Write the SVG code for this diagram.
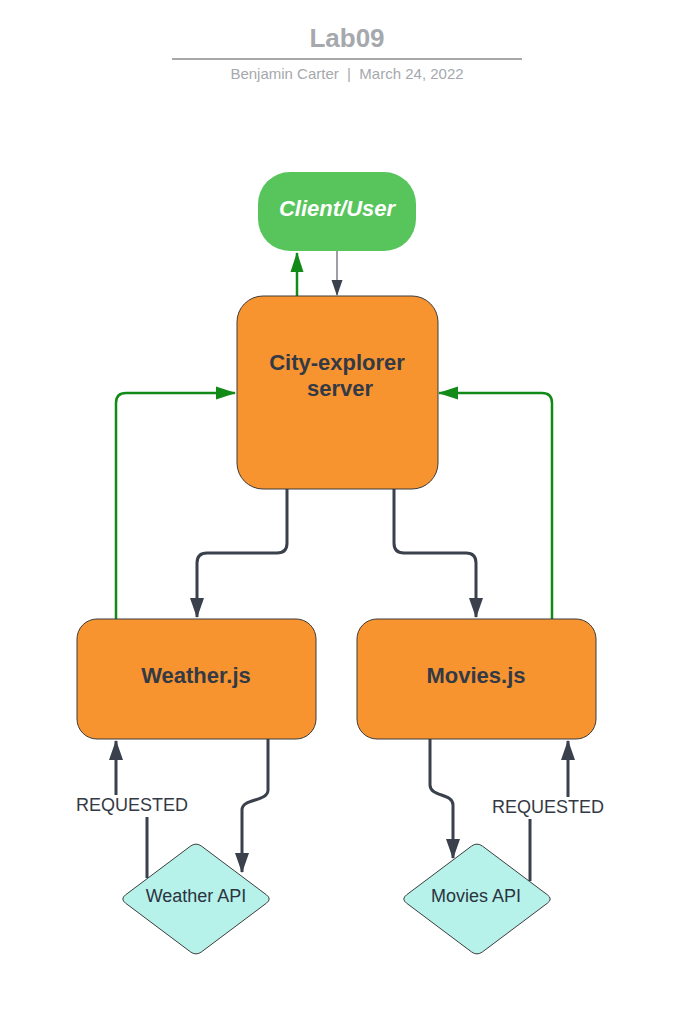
<svg xmlns="http://www.w3.org/2000/svg" width="695" height="1012" viewBox="0 0 695 1012">
<style>
.box{fill:#f7942f;stroke:#3d3d3d;stroke-width:1}
.api{fill:#b6f2ea;stroke:#3d3d3d;stroke-width:1}
.lbl{font-family:"Liberation Sans",Arial,sans-serif;font-weight:bold;font-size:22px;fill:#333a45;text-anchor:middle}
.api-t{font-family:"Liberation Sans",Arial,sans-serif;font-size:18px;fill:#2b3440;text-anchor:middle}
.req{font-family:"Liberation Sans",Arial,sans-serif;font-size:18px;fill:#333a45;text-anchor:middle}
.dk{fill:none;stroke:#3a414c;stroke-width:3}
.gr{fill:none;stroke:#128a18;stroke-width:2.5}
</style>
<defs>
<marker id="ad" markerUnits="userSpaceOnUse" markerWidth="22" markerHeight="16" refX="19" refY="8" orient="auto"><path d="M0,1 L20,8 L0,15 z" fill="#3a414c"/></marker>
<marker id="ag" markerUnits="userSpaceOnUse" markerWidth="22" markerHeight="16" refX="19" refY="8" orient="auto"><path d="M0,1.5 L20,8 L0,14.5 z" fill="#128a18"/></marker>
<marker id="at" markerUnits="userSpaceOnUse" markerWidth="16" markerHeight="12" refX="15" refY="6" orient="auto"><path d="M0,0.5 L16,6 L0,11.5 z" fill="#3a414c"/></marker>
</defs>
<g id="title">
<text x="347" y="47" font-family="Liberation Sans,Arial,sans-serif" font-weight="bold" font-size="26" fill="#a5a9ad" text-anchor="middle">Lab09</text>
<line x1="172" y1="59" x2="522" y2="59" stroke="#a8a8a8" stroke-width="2"/>
<text x="347" y="79" font-family="Liberation Sans,Arial,sans-serif" font-size="15" fill="#a5a9ad" text-anchor="middle" xml:space="preserve">Benjamin Carter  |  March 24, 2022</text>
</g>
<g id="connectors">
<path class="gr" d="M297,296 V253" marker-end="url(#ag)"/>
<path d="M337,251 V295" fill="none" stroke="#3a414c" stroke-width="1" marker-end="url(#at)"/>
<path class="gr" d="M116,619 V403 Q116,393 126,393 H235" marker-end="url(#ag)"/>
<path class="gr" d="M552,619 V403 Q552,393 542,393 H439" marker-end="url(#ag)"/>
<path class="dk" d="M287,489 V543 Q287,553 277,553 H207 Q197,553 197,563 V617" marker-end="url(#ad)"/>
<path class="dk" d="M394,489 V543 Q394,553 404,553 H466 Q476,553 476,563 V617" marker-end="url(#ad)"/>
<path class="dk" d="M268,739 V790 C268,802 242,798 242,810 V872" marker-end="url(#ad)"/>
<path class="dk" d="M430,739 V785 C430,797 453,793 453,805 V858" marker-end="url(#ad)"/>
<path class="dk" d="M147,878 V805 H116 V741" marker-end="url(#ad)"/>
<path class="dk" d="M530,881 V806 H568 V741" marker-end="url(#ad)"/>
<rect x="72" y="795" width="120" height="22" fill="#ffffff"/>
<text class="req" x="132" y="811">REQUESTED</text>
<rect x="488" y="797" width="120" height="22" fill="#ffffff"/>
<text class="req" x="548" y="813">REQUESTED</text>
</g>
<g id="client">
<rect x="258" y="172" width="158" height="79" rx="32" ry="32" fill="#57c55b"/>
<text x="337" y="216" font-family="Liberation Sans,Arial,sans-serif" font-weight="bold" font-style="italic" font-size="22" fill="#ffffff" text-anchor="middle">Client/User</text>
</g>
<g id="server">
<rect class="box" x="237" y="296" width="201" height="193" rx="26" ry="26"/>
<text class="lbl" x="337" y="370">City-explorer</text>
<text class="lbl" x="340" y="396">server</text>
</g>
<g id="weather">
<rect class="box" x="77" y="619" width="239" height="120" rx="20" ry="20"/>
<text class="lbl" x="196" y="683">Weather.js</text>
</g>
<g id="movies">
<rect class="box" x="357" y="619" width="239" height="120" rx="20" ry="20"/>
<text class="lbl" x="476" y="683">Movies.js</text>
</g>
<g id="weather-api">
<path class="api" d="M125.6,894.8 L190.4,846.2 Q196,842 201.6,846.2 L266.4,894.8 Q272,899 266.4,903.2 L201.6,951.8 Q196,956 190.4,951.8 L125.6,903.2 Q120,899 125.6,894.8 Z"/>
<text class="api-t" x="196" y="902">Weather API</text>
</g>
<g id="movies-api">
<path class="api" d="M406.6,894.8 L471.4,846.2 Q477,842 482.6,846.2 L547.4,894.8 Q553,899 547.4,903.2 L482.6,951.8 Q477,956 471.4,951.8 L406.6,903.2 Q401,899 406.6,894.8 Z"/>
<text class="api-t" x="476" y="902">Movies API</text>
</g>
</svg>
